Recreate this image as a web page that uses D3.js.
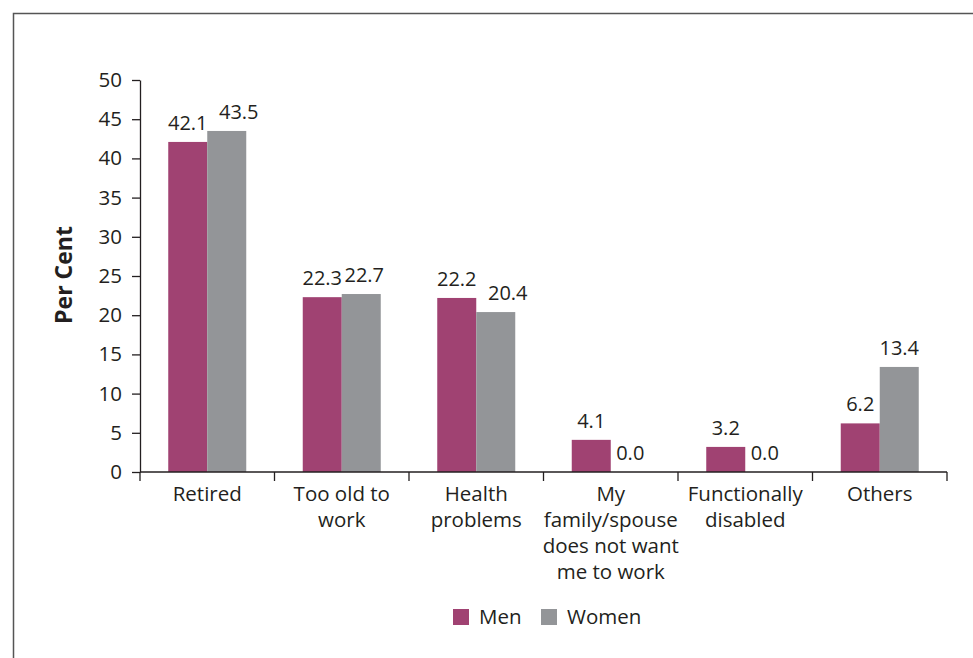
<!DOCTYPE html>
<html><head><meta charset="utf-8">
<script src="https://cdn.jsdelivr.net/npm/d3@7"></script>
<style>
body{margin:0;background:#fff;}
svg{display:block;font-family:"Open Sans", "Noto Sans", sans-serif;}
</style></head>
<body>
<svg id="c" width="973" height="658"></svg>
<script>
const categories = [
  ["Retired"],
  ["Too old to","work"],
  ["Health","problems"],
  ["My","family/spouse","does not want","me to work"],
  ["Functionally","disabled"],
  ["Others"]
];
const seriesNames = ["Men","Women"];
const men   = [42.1, 22.3, 22.2, 4.1, 3.2, 6.2];
const women = [43.5, 22.7, 20.4, 0.0, 0.0, 13.4];
const yTicks = [0,5,10,15,20,25,30,35,40,45,50];
const colors = ["#a04272","#939598"];
const textColor = "#231f20";
const FONT = "'Open Sans', 'Noto Sans', sans-serif";
const FS = 20.5;
const womenLabelShift = [12, 3, 12, 0, 0, 0];

const svg = d3.select("#c");
// frame
svg.append("path").attr("d","M13.5,658 L13.5,13.5 L973,13.5")
  .attr("fill","none").attr("stroke","#555").attr("stroke-width",1.5);

const x0 = 140, x1 = 947, yTop = 80, yBot = 472;
const x = d3.scaleBand().domain(d3.range(categories.length)).range([x0,x1]).padding(0);
const y = d3.scaleLinear().domain([0,50]).range([yBot,yTop]);
const barW = 39;
const series = [men, women];

const g = svg.append("g");
series.forEach((vals,si)=>{
  g.selectAll(".b"+si).data(vals).join("rect")
    .attr("x",(d,i)=>x(i)+x.bandwidth()/2 - barW + si*barW)
    .attr("y",d=>y(d))
    .attr("width",barW)
    .attr("height",d=>yBot-y(d))
    .attr("fill",colors[si]);
  g.selectAll(".l"+si).data(vals).join("text")
    .attr("x",(d,i)=>x(i)+x.bandwidth()/2 - barW/2 + si*barW + (si===1 ? womenLabelShift[i] : 0))
    .attr("y",d=>y(d)-12)
    .attr("text-anchor","middle")
    .attr("font-size",20).attr("fill",textColor)
    .text(d=>d.toFixed(1));
});

// y axis
const ya = svg.append("g").attr("transform",`translate(${x0},0)`)
  .call(d3.axisLeft(y).tickValues(yTicks).tickSize(8).tickPadding(10).tickSizeOuter(0));
ya.select(".domain").attr("stroke","#231f20").attr("stroke-width",1.3);
ya.selectAll(".tick line").attr("stroke","#231f20").attr("stroke-width",1.3);
ya.selectAll(".tick text").attr("font-size",FS).attr("fill",textColor).attr("font-family",FONT);

// x axis line and ticks
const bounds = d3.range(categories.length+1).map(i=> i<categories.length ? x(i) : x1);
svg.append("line").attr("x1",x0).attr("x2",x1).attr("y1",yBot).attr("y2",yBot)
  .attr("stroke","#231f20").attr("stroke-width",1.3);
svg.selectAll(".xt").data(bounds).join("line")
  .attr("x1",d=>d).attr("x2",d=>d).attr("y1",yBot).attr("y2",yBot+9)
  .attr("stroke","#231f20").attr("stroke-width",1.3);

// category labels
categories.forEach((lines,i)=>{
  const t = svg.append("text").attr("text-anchor","middle")
    .attr("font-size",FS).attr("fill",textColor);
  lines.forEach((ln,k)=>{
    t.append("tspan").attr("x",x(i)+x.bandwidth()/2).attr("y",501+k*26).text(ln);
  });
});

// y title
svg.append("text").attr("transform","translate(72,275) rotate(-90)")
  .attr("text-anchor","middle").attr("font-size",23).attr("font-weight","bold")
  .attr("fill",textColor).text("Per Cent");

// legend
const leg = svg.append("g");
const legX = [453, 541];
seriesNames.forEach((n,i)=>{
  leg.append("rect").attr("x",legX[i]).attr("y",609).attr("width",16).attr("height",16).attr("fill",colors[i]);
  leg.append("text").attr("x",legX[i]+26).attr("y",624).attr("font-size",FS).attr("fill",textColor).text(n);
});
</script>
</body></html>
